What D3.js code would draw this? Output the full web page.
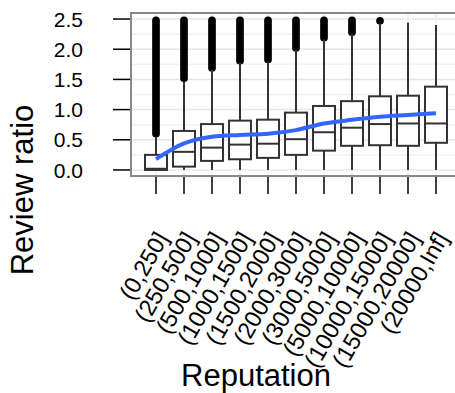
<!DOCTYPE html>
<html>
<head>
<meta charset="utf-8">
<script src="https://cdn.jsdelivr.net/npm/d3@7"></script>
<style>
	html, body { margin: 0; padding: 0; background: #fff; }
	svg { display: block; font-family: 'Liberation Sans', Arial, Helvetica, sans-serif; }
</style>
</head>
<body>
<script>

// reputation buckets
var categories = ['(0,250]', '(250,500]', '(500,1000]', '(1000,1500]', '(1500,2000]',
	'(2000,3000]', '(3000,5000]', '(5000,10000]', '(10000,15000]', '(15000,20000]', '(20000,Inf]']

// box statistics
var whiskerLo = [0, 0, 0, 0, 0, 0, 0, 0, 0, 0, 0]
var q1        = [0.00, 0.055, 0.15, 0.177, 0.20, 0.25, 0.32, 0.40, 0.41, 0.40, 0.45]
var medians   = [0.02, 0.30, 0.37, 0.42, 0.435, 0.51, 0.625, 0.70, 0.76, 0.77, 0.77]
var q3        = [0.25, 0.646, 0.76, 0.817, 0.833, 0.95, 1.06, 1.14, 1.22, 1.23, 1.38]
var whiskerHi = [0.55, 1.46, 1.66, 1.78, 1.80, 1.99, 2.16, 2.25, 2.42, 2.44, 2.40]

// outliers are so dense they form a solid run: [from, to], null when none
var outliers = [[0.60, 2.48], [1.52, 2.48], [1.69, 2.48], [1.81, 2.48], [1.83, 2.48],
	[2.02, 2.48], [2.19, 2.48], [2.28, 2.48], [2.47, 2.47], null, null]

// smoothed trend (blue)
var trend = [0.18, 0.44, 0.55, 0.58, 0.60, 0.66, 0.77, 0.83, 0.88, 0.91, 0.94]

var yTicks = [0, 0.5, 1, 1.5, 2, 2.5]
var yGrid = [0, 0.25, 0.5, 0.75, 1, 1.25, 1.5, 1.75, 2, 2.25, 2.5]

var width = 455
	, height = 393
	, panel = {left: 131, top: 13, right: 461, bottom: 176}

var svg = d3.select('body').append('svg')
	.attr('width', width)
	.attr('height', height)

var x = d3.scalePoint()
	.domain(categories)
	.range([156, 436])

var y = d3.scaleLinear()
	.domain([-0.1, 2.6])
	.range([panel.bottom, panel.top])

var data = categories.map(function(c, i) {
	return {
		name: c
		, lo: whiskerLo[i]
		, q1: q1[i]
		, med: medians[i]
		, q3: q3[i]
		, hi: whiskerHi[i]
		, out: outliers[i]
		, trend: trend[i]
	}
})

var boxW = 22

// light grid
var grid = svg.append('g')

grid.selectAll('.hgrid').data(yGrid)
  .enter()
	.append('line')
	.attr('x1', panel.left).attr('x2', panel.right)
	.attr('y1', function(d) { return y(d) })
	.attr('y2', function(d) { return y(d) })
	.style('stroke', function(d) { return d % 0.5 === 0 ? '#e6e6e6' : '#f2f2f2' })
	.style('stroke-width', 1.5)

grid.selectAll('.vgrid').data(categories)
  .enter()
	.append('line')
	.attr('x1', function(d) { return x(d) })
	.attr('x2', function(d) { return x(d) })
	.attr('y1', panel.top).attr('y2', panel.bottom)
	.style('stroke', '#ececec')
	.style('stroke-width', 1.5)

var boxes = svg.append('g')
	.selectAll('.box').data(data)
  .enter()
	.append('g')
	.attr('class', 'box')
	.attr('transform', function(d) { return 'translate(' + x(d.name) + ',0)' })

// outlier runs
boxes.filter(function(d) { return d.out })
	.append('line')
	.attr('y1', function(d) { return y(d.out[0]) })
	.attr('y2', function(d) { return y(d.out[1]) + 0.01 })
	.style('stroke', '#000')
	.style('stroke-width', 7.7)
	.style('stroke-linecap', 'round')

// whiskers
boxes.append('line')
	.attr('y1', function(d) { return y(d.q3) })
	.attr('y2', function(d) { return y(d.hi) })
	.style('stroke', '#333')
	.style('stroke-width', 2)

boxes.append('line')
	.attr('y1', function(d) { return y(d.q1) })
	.attr('y2', function(d) { return y(d.lo) })
	.style('stroke', '#333')
	.style('stroke-width', 2)

boxes.append('rect')
	.attr('x', -boxW / 2)
	.attr('width', boxW)
	.attr('y', function(d) { return y(d.q3) })
	.attr('height', function(d) { return y(d.q1) - y(d.q3) })
	.style('fill', '#fff')
	.style('stroke', '#333')
	.style('stroke-width', 2)

boxes.append('line')
	.attr('x1', -boxW / 2).attr('x2', boxW / 2)
	.attr('y1', function(d) { return y(d.med) })
	.attr('y2', function(d) { return y(d.med) })
	.style('stroke', '#333')
	.style('stroke-width', 2)

// trend line
var line = d3.line()
	.x(function(d) { return x(d.name) })
	.y(function(d) { return y(d.trend) })
	.curve(d3.curveMonotoneX)

svg.append('path')
	.datum(data)
	.attr('d', line)
	.style('fill', 'none')
	.style('stroke', '#3366ff')
	.style('stroke-width', 4)
	.style('stroke-linejoin', 'round')

// panel border
svg.append('rect')
	.attr('x', panel.left)
	.attr('y', panel.top)
	.attr('width', panel.right - panel.left)
	.attr('height', panel.bottom - panel.top)
	.style('fill', 'none')
	.style('stroke', '#888')
	.style('stroke-width', 2)

// y axis ticks + labels
svg.selectAll('.ytick').data(yTicks)
  .enter()
	.append('line')
	.attr('x1', 113).attr('x2', panel.left - 1)
	.attr('y1', function(d) { return y(d) })
	.attr('y2', function(d) { return y(d) })
	.style('stroke', '#000')
	.style('stroke-width', 1.5)

svg.selectAll('.ylab').data(yTicks)
  .enter()
	.append('text')
	.text(function(d) { return d3.format('.1f')(d) })
	.attr('x', 83)
	.attr('y', function(d) { return y(d) })
	.attr('dy', '0.36em')
	.attr('text-anchor', 'end')
	.style('font-size', '21px')

// x axis ticks + rotated labels
svg.selectAll('.xtick').data(categories)
  .enter()
	.append('line')
	.attr('x1', function(d) { return x(d) })
	.attr('x2', function(d) { return x(d) })
	.attr('y1', panel.bottom + 1).attr('y2', 194)
	.style('stroke', '#000')
	.style('stroke-width', 1.5)

svg.selectAll('.xlab').data(categories)
  .enter()
	.append('text')
	.text(function(d) { return d })
	.attr('text-anchor', 'end')
	.attr('dy', '0.35em')
	.attr('transform', function(d) { return 'translate(' + (x(d) + 6) + ',234) rotate(-60)' })
	.style('font-size', '23.5px')

// axis titles
svg.append('text')
	.text('Reputation')
	.attr('x', 256)
	.attr('y', 386)
	.attr('text-anchor', 'middle')
	.style('font-size', '31px')

svg.append('text')
	.text('Review ratio')
	.attr('text-anchor', 'middle')
	.attr('transform', 'translate(33,190) rotate(-90)')
	.style('font-size', '31px')

</script>
</body>
</html>
